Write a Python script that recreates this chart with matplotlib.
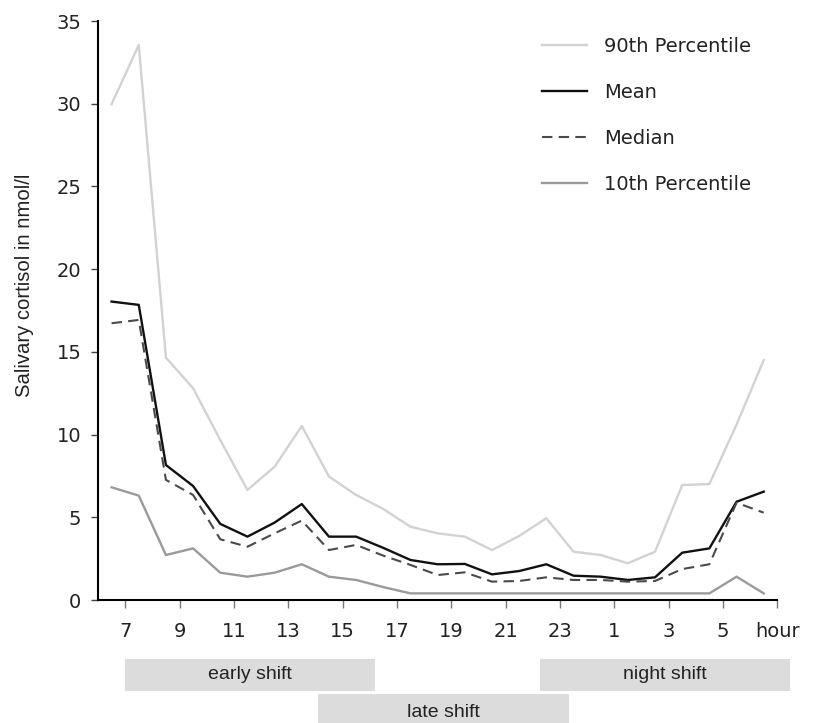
"""
Salivary cortisol over the day, with shift bars below the axis
"""
import matplotlib.pyplot as plt
import matplotlib.transforms as mtransforms
from matplotlib.patches import Rectangle

# half-hour slots, 6:30 through 6:30 next morning (hours > 24 wrap past midnight)
times = [6.5, 7.5, 8.5, 9.5, 10.5, 11.5, 12.5, 13.5, 14.5, 15.5, 16.5, 17.5, 18.5,
         19.5, 20.5, 21.5, 22.5, 23.5, 24.5, 25.5, 26.5, 27.5, 28.5, 29.5, 30.5]

p90 = [29.97, 33.55, 14.65, 12.8, 9.67, 6.65, 8.06, 10.52, 7.46, 6.35, 5.5, 4.43, 4.03,
       3.83, 3.02, 3.87, 4.94, 2.92, 2.72, 2.22, 2.92, 6.95, 7.01, 10.6, 14.5]
mean = [18.04, 17.84, 8.16, 6.89, 4.6, 3.83, 4.68, 5.8, 3.83, 3.83, 3.15, 2.42, 2.16,
        2.18, 1.55, 1.75, 2.16, 1.47, 1.41, 1.21, 1.37, 2.86, 3.12, 5.94, 6.55]
median = [16.73, 16.93, 7.26, 6.35, 3.67, 3.22, 4.03, 4.8, 3.02, 3.33, 2.68, 2.12, 1.51,
          1.67, 1.11, 1.15, 1.37, 1.21, 1.21, 1.11, 1.15, 1.87, 2.16, 5.88, 5.28]
p10 = [6.81, 6.31, 2.72, 3.12, 1.65, 1.41, 1.65, 2.16, 1.41, 1.21, 0.78, 0.4, 0.4,
       0.4, 0.4, 0.4, 0.4, 0.4, 0.4, 0.4, 0.4, 0.4, 0.4, 1.41, 0.4]

tick_pos = [7, 9, 11, 13, 15, 17, 19, 21, 23, 25, 27, 29, 31]
tick_labels = ['7', '9', '11', '13', '15', '17', '19', '21', '23', '1', '3', '5', 'hour']

# shift name, start hour, end hour, row (0 = upper row)
shift_names = ['early shift', 'late shift', 'night shift']
shift_start = [7.0, 14.1, 22.25]
shift_end = [16.2, 23.35, 31.45]
shift_row = [0, 1, 0]

W, H = 838, 723
fig = plt.figure(figsize=(W / 100, H / 100), dpi=100)
ax = fig.add_axes([98 / W, 1 - 600 / H, (777.3 - 98) / W, (600 - 21) / H])

ax.plot(times, p90, color='#d2d2d2', lw=1.7, label='90th Percentile')
ax.plot(times, mean, color='#111111', lw=1.7, label='Mean')
ax.plot(times, median, color='#4a4a4a', lw=1.5, ls=(0, (5, 3)), label='Median')
ax.plot(times, p10, color='#9a9a9a', lw=1.7, label='10th Percentile')

ax.set_xlim(6, 31)
ax.set_ylim(0, 35)
ax.set_yticks([0, 5, 10, 15, 20, 25, 30, 35])
ax.set_xticks(tick_pos)
ax.set_xticklabels(tick_labels)

for side in ['top', 'right']:
    ax.spines[side].set_visible(False)
for side in ['left', 'bottom']:
    ax.spines[side].set_linewidth(1.5)
    ax.spines[side].set_color('black')

ax.tick_params(axis='y', direction='out', length=5, width=1, color='#444444',
               labelsize=14, pad=7, labelcolor='#222222')
ax.tick_params(axis='x', direction='out', length=6, width=1, color='#777777',
               labelsize=14, pad=10, labelcolor='#222222')
for lab in ax.get_yticklabels() + ax.get_xticklabels():
    lab.set_family('DejaVu Sans')

fig.text(25 / W, 1 - 285.5 / H, 'Salivary cortisol in nmol/l', rotation=90,
         ha='center', va='center', fontsize=14.6, family='Liberation Sans', color='#222222')

leg = ax.legend(loc='upper left', bbox_to_anchor=(541.7 / W, 1 - 37 / H),
                bbox_transform=fig.transFigure, frameon=False, fontsize=14,
                handlelength=2.35, handletextpad=0.85, labelspacing=1.38,
                borderpad=0, borderaxespad=0)
for t in leg.get_texts():
    t.set_family('DejaVu Sans')
    t.set_color('#222222')

# shift bars: x in hours, y in figure pixels
trans = mtransforms.blended_transform_factory(ax.transData, fig.transFigure)
row_top = [658.5, 694.0]
row_h = [32.5, 37.5]
for name, x0, x1, row in zip(shift_names, shift_start, shift_end, shift_row):
    h = row_h[row]
    y_bot = 1 - (row_top[row] + h) / H
    rect = Rectangle((x0, y_bot), x1 - x0, h / H, transform=trans,
                     facecolor='#dcdcdc', edgecolor='none', clip_on=False)
    fig.add_artist(rect)
    fig.text((x0 + x1) / 2, y_bot + h / H / 2, name, transform=trans,
             ha='center', va='center', fontsize=14, family='Liberation Sans',
             color='#222222')

plt.savefig('out.png', dpi=100)
plt.close()
